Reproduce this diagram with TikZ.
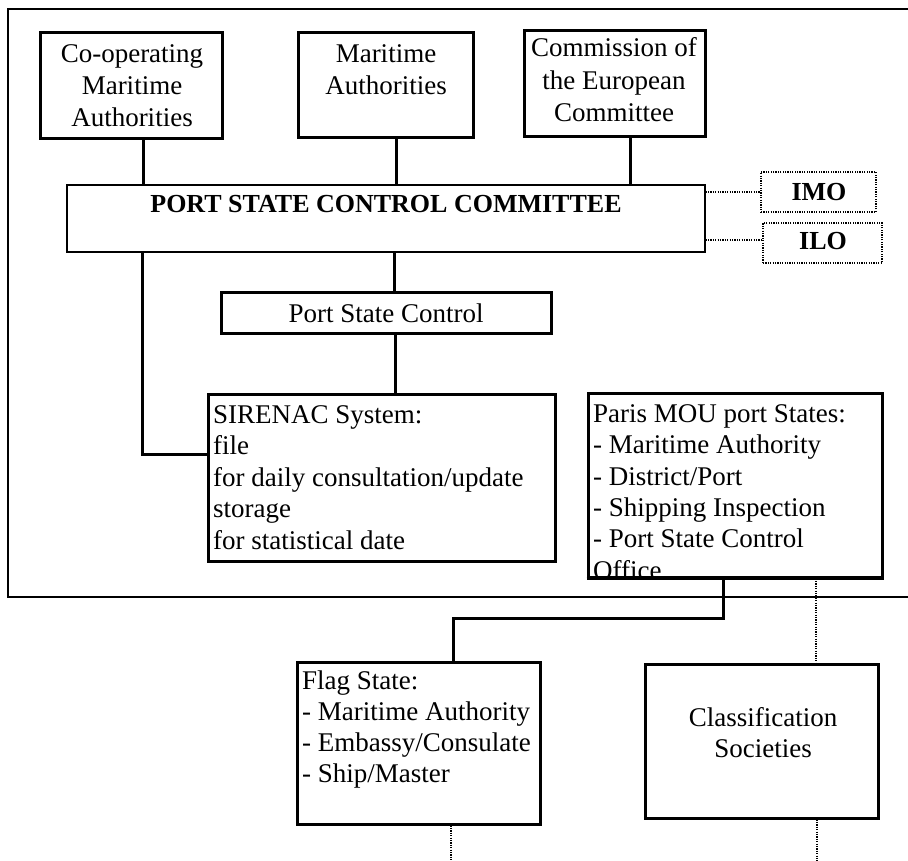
\documentclass[tikz,border=0pt]{standalone}
\usepackage{fontspec}
\setmainfont{Liberation Serif}
\begin{document}
\begin{tikzpicture}[x=1pt,y=-1pt,
  box/.style={draw,line width=3pt,rectangle,inner sep=0pt},
  thinbox/.style={draw,line width=1.3pt,rectangle,inner sep=0pt},
  dotbox/.style={draw,line width=1.4pt,dash pattern=on 1.2pt off 1.2pt,rectangle,inner sep=0pt},
  conn/.style={line width=3pt},
  dotline/.style={line width=1.3pt,dash pattern=on 1.2pt off 1.2pt},
  outerframe/.style={line width=2.6pt},
  txt/.style={inner sep=0pt,font=\fontsize{27}{31}\selectfont},
  btxt/.style={inner sep=0pt,font=\fontsize{26}{30}\selectfont\bfseries}]
\clip (0,0) rectangle (908,861);
\fill[white] (0,0) rectangle (908,861);
% outer frame
\draw[outerframe] (8,9) rectangle (930,597);
% boxes
\node[box,minimum width=182pt,minimum height=106pt] (coop) at (131,86) {};
\node[box,minimum width=175pt,minimum height=105pt] (ma) at (385.5,85.5) {};
\node[box,minimum width=181pt,minimum height=106pt] (com) at (614.5,84) {};
\node[thinbox,minimum width=638pt,minimum height=67pt] (pscc) at (386,218.5) {};
\node[dotbox,minimum width=115pt,minimum height=40pt] (imo) at (818.5,192) {};
\node[dotbox,minimum width=119pt,minimum height=40pt] (ilo) at (822.5,243) {};
\node[box,minimum width=330pt,minimum height=41pt] (psc) at (386,312.5) {};
\node[box,minimum width=347pt,minimum height=167pt] (sir) at (381.5,477.5) {};
\node[box,minimum width=294pt,minimum height=184pt] (paris) at (735,485) {};
\node[box,minimum width=243pt,minimum height=162pt] (flag) at (418.5,743) {};
\node[box,minimum width=233pt,minimum height=154pt] (cls) at (761.5,741) {};
% texts
\node[txt,anchor=base] (coop1) at (132,63) {Co-operating};
\node[txt,anchor=base] (coop2) at (132,95) {Maritime};
\node[txt,anchor=base] (coop3) at (132,127) {Authorities};
\node[txt,anchor=base] (ma1) at (386,63) {Maritime};
\node[txt,anchor=base] (ma2) at (386,95) {Authorities};
\node[txt,anchor=base] (com1) at (614,57) {Commission of};
\node[txt,anchor=base] (com2) at (614,90) {the European};
\node[txt,anchor=base] (com3) at (614,122) {Committee};
\node[btxt,anchor=base] (pscct) at (386,213) {PORT STATE CONTROL COMMITTEE};
\node[btxt,anchor=base] (imot) at (819,201) {IMO};
\node[btxt,anchor=base] (ilot) at (823,250) {ILO};
\node[txt,anchor=base] (psct) at (386,322) {Port State Control};
\foreach \t [count=\k] in {SIRENAC System:,file,for daily consultation/update,storage,for statistical date}
  \node[txt,anchor=base west] (sir\k) at (213,{423+31.6*(\k-1)}) {\t};
\begin{scope}
  \clip (589,394) rectangle (881,578);
  \foreach \t [count=\k] in {Paris MOU port States:,- Maritime Authority,- District/Port,- Shipping Inspection,- Port State Control,Office}
    \node[txt,anchor=base west] (par\k) at (593,{422.5+31.3*(\k-1)}) {\t};
\end{scope}
\draw[line width=3pt] (paris.south west) -- (paris.south east);
\foreach \t [count=\k] in {Flag State:,- Maritime Authority,- Embassy/Consulate,- Ship/Master}
  \node[txt,anchor=base west] (flg\k) at (302,{689+31.3*(\k-1)}) {\t};
\node[txt,anchor=base] (cls1) at (763,726) {Classification};
\node[txt,anchor=base] (cls2) at (763,757) {Societies};
% connectors
\draw[conn] ([xshift=12pt]coop.south) -- ([xshift=12pt]coop.south |- pscc.north);
\draw[conn] ([xshift=10.5pt]ma.south) -- ([xshift=10.5pt]ma.south |- pscc.north);
\draw[conn] ([xshift=15.5pt]com.south) -- ([xshift=15.5pt]com.south |- pscc.north);
\draw[dotline] (pscc.east |- imo.west) -- (imo.west);
\draw[dotline] ([yshift=3pt]ilo.west -| pscc.east) -- ([yshift=3pt]ilo.west);
\draw[conn] ([xshift=8pt]psc.north |- pscc.south) -- ([xshift=8pt]psc.north);
\draw[conn] ([xshift=9pt]psc.south) -- ([xshift=9pt]psc.south |- sir.north);
\draw[conn] ([xshift=76pt]pscc.south west) |- ([yshift=23.5pt]sir.west);
\draw[conn] ([xshift=-12pt]paris.south) -- ++(0,40) -| ([xshift=34.5pt]flag.north);
\draw[dotline] ([xshift=54.5pt]cls.north |- paris.south) -- ([xshift=54.5pt]cls.north);
\coordinate (flagend) at (451,861);
\coordinate (clsend) at (817,861);
\draw[dotline] (flag.south -| flagend) -- (flagend);
\draw[dotline] (cls.south -| clsend) -- (clsend);
\end{tikzpicture}
\end{document}
